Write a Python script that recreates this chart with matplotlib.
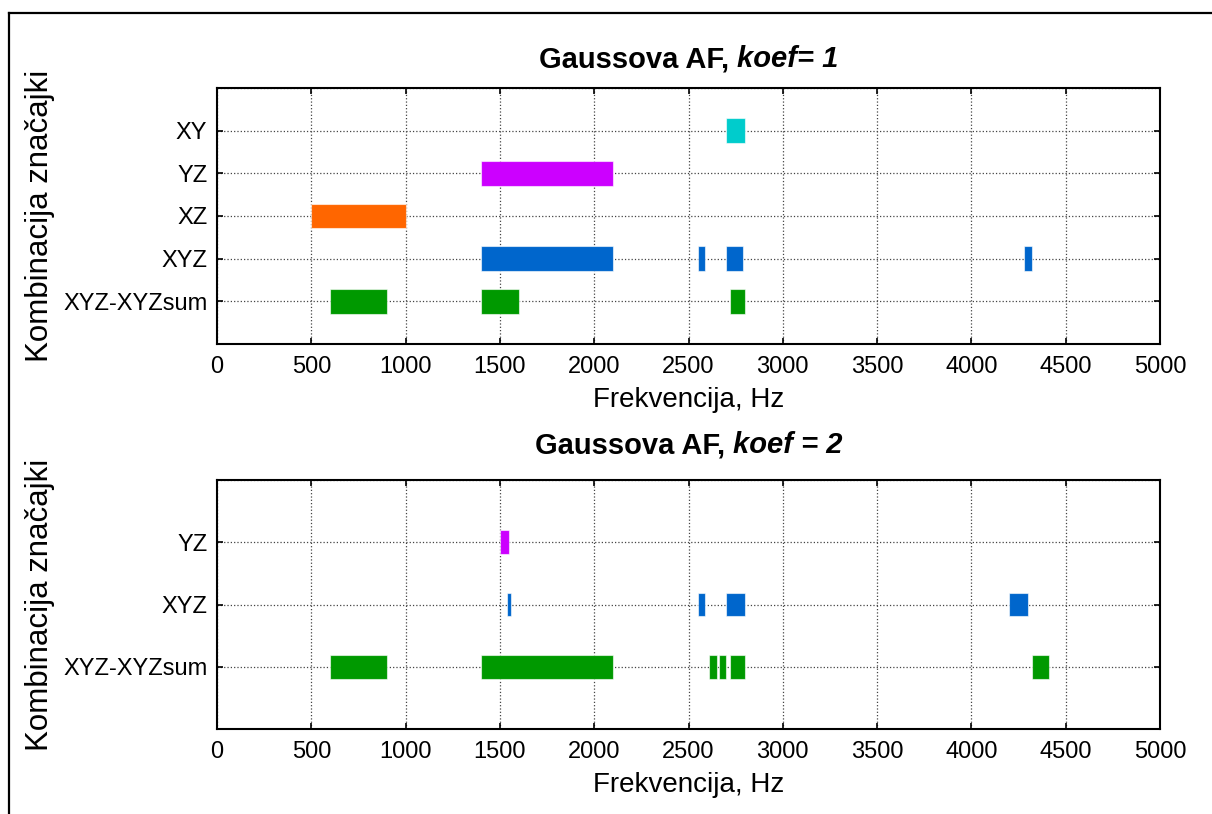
import numpy as np
import matplotlib
matplotlib.use('Agg')
import matplotlib.pyplot as plt
from matplotlib.lines import Line2D

plt.rcParams['font.family'] = ['Liberation Sans', 'DejaVu Sans']

# frequency bands (start, end) in Hz, per feature combination
# koef = 1
k1_labels = ['XYZ-XYZsum', 'XYZ', 'XZ', 'YZ', 'XY']
k1_sum = [(600, 900), (1400, 1600), (2720, 2800)]
k1_xyz = [(1400, 2100), (2550, 2585), (2700, 2790), (4280, 4320)]
k1_xz = [(500, 1000)]
k1_yz = [(1400, 2100)]
k1_xy = [(2700, 2800)]

# koef = 2
k2_labels = ['XYZ-XYZsum', 'XYZ', 'YZ']
k2_sum = [(600, 900), (1400, 2100), (2610, 2650), (2660, 2700), (2720, 2800), (4320, 4410)]
k2_xyz = [(1540, 1560), (2550, 2585), (2700, 2800), (4200, 4300)]
k2_yz = [(1500, 1550)]

c_green = '#009900'
c_blue = '#0066cc'
c_orange = '#ff6600'
c_magenta = '#cc00ff'
c_cyan = '#00cccc'

xticks = np.arange(0, 5001, 500)


def draw_rows(ax, rows, colors, h):
    for i, (bands, col) in enumerate(zip(rows, colors)):
        y = i + 1
        ax.broken_barh([(a, b - a) for a, b in bands], (y - h / 2, h),
                       facecolors=col, edgecolor=(1, 1, 1, 0.6), linewidth=0.8, zorder=3)


def title_pieces(fig, ax, pieces, dy_px):
    # title made of a bold part and a bold-italic part, centred over the axes
    r = fig.canvas.get_renderer()
    texts = []
    for s, style in pieces:
        t = fig.text(0, 0, s, fontsize=21, fontweight='bold', fontstyle=style,
                     ha='left', va='baseline')
        texts.append(t)
    widths = [t.get_window_extent(r).width for t in texts]
    bb = ax.get_window_extent(r)
    x = (bb.x0 + bb.x1) / 2 - sum(widths) / 2
    y = bb.y1 + dy_px
    W, H = fig.bbox.width, fig.bbox.height
    for t, w in zip(texts, widths):
        t.set_position((x / W, y / H))
        x += w


def style(ax, labels):
    n = len(labels)
    ax.set_xlim(0, 5000)
    ax.set_ylim(0, n + 1)
    ax.set_xticks(xticks)
    ax.set_yticks(np.arange(0, n + 2))
    ax.set_yticklabels([''] + labels + [''])
    ax.tick_params(direction='in', top=True, right=True, length=4, width=1.2,
                   labelsize=17)
    ax.tick_params(axis='x', pad=9)
    ax.tick_params(axis='y', pad=7)
    ax.grid(True, color='#444444', linestyle=':', linewidth=0.9, zorder=0)
    ax.set_axisbelow(True)
    for s in ax.spines.values():
        s.set_linewidth(1.5)
    ax.set_xlabel('Frekvencija, Hz', fontsize=20, labelpad=6)
    ax.set_ylabel('Kombinacija značajki', fontsize=22.5)
    ax.yaxis.set_label_coords(-0.172, 0.5)


fig = plt.figure(figsize=(12.12, 8.14), dpi=100)
ax1 = fig.add_axes([217 / 1212, 1 - 344 / 814, 943 / 1212, 256 / 814])
ax2 = fig.add_axes([217 / 1212, 1 - 729 / 814, 943 / 1212, 249 / 814])

draw_rows(ax1, [k1_sum, k1_xyz, k1_xz, k1_yz, k1_xy],
          [c_green, c_blue, c_orange, c_magenta, c_cyan], 0.58)
style(ax1, k1_labels)

draw_rows(ax2, [k2_sum, k2_xyz, k2_yz], [c_green, c_blue, c_magenta], 0.38)
style(ax2, k2_labels)

title_pieces(fig, ax1, [('Gaussova AF, ', 'normal'), ('koef= 1', 'italic')], 21)
title_pieces(fig, ax2, [('Gaussova AF, ', 'normal'), ('koef = 2', 'italic')], 27)

# outer frame of the exported figure
fig.add_artist(Line2D([9 / 1212, 9 / 1212], [0, 1 - 13 / 814], color='black', linewidth=1.6))
fig.add_artist(Line2D([9 / 1212, 1], [1 - 13 / 814, 1 - 13 / 814], color='black', linewidth=1.6))

fig.savefig('out.png', dpi=100)
